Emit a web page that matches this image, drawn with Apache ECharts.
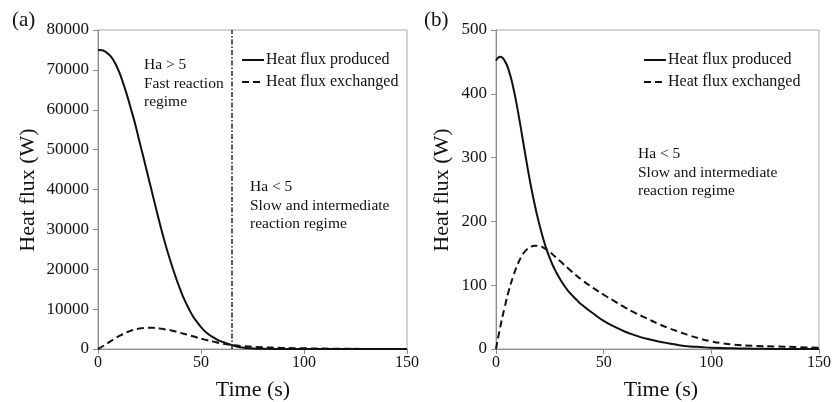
<!DOCTYPE html>
<html>
<head>
<meta charset="utf-8">
<script src="https://cdn.jsdelivr.net/npm/echarts@6/dist/echarts.min.js"></script>
<style>
html,body{margin:0;padding:0;background:#fff;}
#chart{width:834px;height:402px;}
</style>
</head>
<body>
<div id="chart"></div>
<script>
// ---- Data (a) ----
const tA_produced = [0,2,4,6,8,10,12,14,16,18,20,22,24,26,28,30,32,34,36,38,40,42,44,46,48,50,52,55,58,61,65,70,75,80,90,100,120,150];
const vA_produced = [75000,74900,74400,73500,72000,69800,67000,63800,60200,56500,52300,48200,44000,39800,35600,31500,27600,24000,20700,17600,14800,12300,10200,8300,6800,5500,4400,3200,2300,1700,1000,350,150,60,20,0,0,0];
const tA_exchanged = [0,3,6,9,12,15,18,21,24,27,30,33,36,40,44,48,52,56,60,65,70,80,90,100,110,120,130,140,150];
const vA_exchanged = [0,900,1900,2900,3700,4400,4900,5200,5300,5300,5150,4900,4600,4050,3500,2900,2350,1850,1400,1000,750,450,280,170,100,50,20,5,0];
const regimeBoundaryA = 65;

// ---- Data (b) ----
const tB_produced = [0,2,4,6,8,10,12,14,16,18,20,22,24,26,28,30,32,34,36,38,40,45,50,55,60,65,70,75,80,85,90,95,100,110,120,130,150];
const vB_produced = [452,458,452,436,410,376,337,297,259,226,197,172,151,134,120,108,98,89,82,75,69,56,44,35,27,21,16,12,9,6,4,3,2,1,0.5,0,0];
const tB_exchanged = [0,2,4,6,8,10,12,14,16,18,20,22,25,28,30,35,40,45,50,55,60,65,70,75,80,85,90,95,100,105,110,120,130,140,150];
const vB_exchanged = [0,35,65,92,114,132,146,155,160,162,161,159,152,143,137,122,108,96,85,75,65,56,48,40,33,27,21,16,12,9,7,5,4,3,2];

// ---- Axes / labels ----
const xTicks = {min:0, max:150, interval:50};
const yTicksA = {min:0, max:80000, interval:10000};
const yTicksB = {min:0, max:500, interval:100};
const seriesNames = ['Heat flux produced','Heat flux exchanged'];
const panelLabels = ['(a)','(b)'];
const xTitle = 'Time (s)';
const yTitle = 'Heat flux (W)';
const notesA1 = ['Ha > 5','Fast reaction','regime'];
const notesA2 = ['Ha < 5','Slow and intermediate','reaction regime'];
const notesB = ['Ha < 5','Slow and intermediate','reaction regime'];

const FONT = '"Liberation Serif", "Times New Roman", serif';
const TXT = '#111';
const AXC = '#8c8c8c';
const DASH = [7,4];

function zip(t, v){ return t.map((x,i)=>[x, v[i]]); }

function xAxis(gi){
  return {type:'value', gridIndex:gi, min:xTicks.min, max:xTicks.max, interval:xTicks.interval,
    axisLine:{show:true, lineStyle:{color:AXC, width:1}},
    axisTick:{show:true, inside:false, length:5, lineStyle:{color:AXC}},
    axisLabel:{color:TXT, fontFamily:FONT, fontSize:16, margin:6, formatter:(v)=>String(v)},
    splitLine:{show:false}};
}
function yAxis(gi, t){
  return {type:'value', gridIndex:gi, min:t.min, max:t.max, interval:t.interval,
    axisLine:{show:true, lineStyle:{color:AXC, width:1}},
    axisTick:{show:true, inside:false, length:5, lineStyle:{color:AXC}},
    axisLabel:{color:TXT, fontFamily:FONT, fontSize:17, margin:9, formatter:(v)=>String(v)},
    splitLine:{show:false}};
}
function lineSeries(name, gi, data, dashed, extra){
  return Object.assign({name:name, type:'line', xAxisIndex:gi, yAxisIndex:gi, data:data,
    smooth:0.5, showSymbol:false, symbol:'none', animation:false,
    lineStyle:{color:'#111', width:2, type: dashed ? DASH : 'solid'},
    itemStyle:{color:'#111'}}, extra||{});
}
function textBlock(lines, x, y, lh, size){
  return lines.map((s,i)=>({type:'text', left:x, top:y + i*lh,
    style:{text:s, fill:TXT, font:size+'px '+FONT}}));
}
function legendBlock(x, y){
  const out = [];
  seriesNames.forEach((name, i)=>{
    const yy = y + i*22;
    out.push({type:'line', shape:{x1:x, y1:yy, x2:x+22, y2:yy},
      style:{stroke:'#111', lineWidth:2, lineDash: i===1 ? DASH : null}});
    out.push({type:'text', x:x+24, y:yy, style:{text:name, fill:TXT, font:'16px '+FONT, textVerticalAlign:'middle'}});
  });
  return out;
}

const option = {
  animation:false,
  backgroundColor:'#fff',
  grid:[
    {left:98, top:30, width:309, height:319, show:true, borderColor:'#a8a8a8', borderWidth:1},
    {left:496, top:30, width:325, height:319, show:true, borderColor:'#a8a8a8', borderWidth:1}
  ],
  xAxis:[xAxis(0), xAxis(1)],
  yAxis:[yAxis(0, yTicksA), yAxis(1, yTicksB)],
  series:[
    lineSeries(seriesNames[0], 0, zip(tA_produced, vA_produced), false, {
      markLine:{silent:true, symbol:'none', label:{show:false},
        lineStyle:{color:'#222', width:1.5, type:[5,2,1.5,2]},
        data:[{xAxis:regimeBoundaryA}]}
    }),
    lineSeries(seriesNames[1], 0, zip(tA_exchanged, vA_exchanged), true),
    lineSeries(seriesNames[0], 1, zip(tB_produced, vB_produced), false),
    lineSeries(seriesNames[1], 1, zip(tB_exchanged, vB_exchanged), true)
  ],
  graphic:[
    {type:'text', left:12, top:10, style:{text:panelLabels[0], fill:TXT, font:'21px '+FONT}},
    {type:'text', left:424, top:10, style:{text:panelLabels[1], fill:TXT, font:'21px '+FONT}},
    {type:'text', x:253, y:390, style:{text:xTitle, fill:TXT, font:'22px '+FONT, textAlign:'center', textVerticalAlign:'middle'}},
    {type:'text', x:661, y:390, style:{text:xTitle, fill:TXT, font:'22px '+FONT, textAlign:'center', textVerticalAlign:'middle'}},
    {type:'text', x:28, y:190, rotation:Math.PI/2, style:{text:yTitle, fill:TXT, font:'22px '+FONT, textAlign:'center', textVerticalAlign:'middle'}},
    {type:'text', x:442, y:190, rotation:Math.PI/2, style:{text:yTitle, fill:TXT, font:'22px '+FONT, textAlign:'center', textVerticalAlign:'middle'}}
  ].concat(legendBlock(242, 60))
   .concat(legendBlock(644, 60))
   .concat(textBlock(notesA1, 144, 57, 18.5, 15.5))
   .concat(textBlock(notesA2, 250, 179, 18.5, 15.5))
   .concat(textBlock(notesB, 638, 146, 18.5, 15.5))
};

const chart = echarts.init(document.getElementById('chart'), null, {renderer:'canvas'});
chart.setOption(option);
</script>
</body>
</html>
